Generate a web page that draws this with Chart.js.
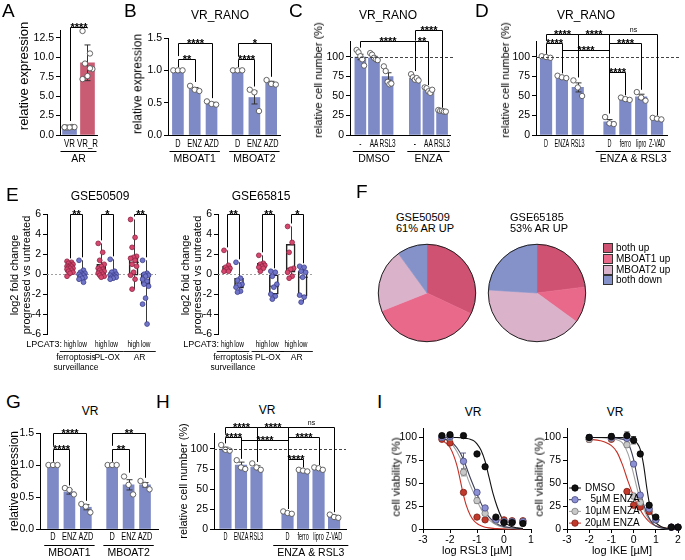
<!DOCTYPE html>
<html>
<head>
<meta charset="utf-8">
<script src="https://cdn.jsdelivr.net/npm/chart.js@4.4.1/dist/chart.umd.min.js"></script>
<style>
  body { margin: 0; background: #fff; }
  #fig { position: relative; width: 685px; height: 560px; overflow: hidden;
         font-family: "Liberation Sans", Arial, Helvetica, sans-serif; color: #000; }
  #fig canvas { position: absolute; }
  .t { position: absolute; white-space: nowrap; line-height: 1; }
  .letter { font-size: 19px; }
  .title { font-size: 12px; transform: translate(-50%, -50%); }
  .ylab { font-size: 11.5px; transform: translate(-50%, -50%) rotate(-90deg); text-align: center; line-height: 1.1; }
  .xlab { font-size: 11px; transform: translate(-50%, -50%); }
  .ftitle { font-size: 11px; line-height: 11px; }
  .leg { font-size: 10px; transform: translateY(-50%); }
  .sq { position: absolute; width: 8px; height: 8px; border: 1px solid #333; }
</style>
</head>
<body>
<div id="fig"></div>
<script>
// ================== DATOS ==================
// A - AR
const aLabels = ['VR', 'VR_R'];
const aGroup = 'AR';
const aMeans = [1.0, 9.3];
const aErrs = [0.05, 2.3];
const aPts = [[1.0, 1.04, 0.96, 1.02, 0.98, 1.0], [13.4, 10.5, 9.2, 8.5, 7.6, 7.2, 8.6]];

// B - VR_RANO MBOAT
const bLabels = ['D', 'ENZ', 'AZD', 'D', 'ENZ', 'AZD'];
const bGroups = ['MBOAT1', 'MBOAT2'];
const bMeans = [1.0, 0.71, 0.49, 1.0, 0.58, 0.81];
const bErrs = [0.005, 0.025, 0.015, 0.005, 0.1, 0.02];
const bPts = [[1, 1, 1], [0.76, 0.70, 0.68], [0.52, 0.48, 0.47], [1, 1, 1], [0.70, 0.66, 0.37], [0.85, 0.79, 0.78]];

// C - VR_RANO DMSO / ENZA
const cLabels = ['-', 'AA', 'RSL3', '-', 'AA', 'RSL3'];
const cGroups = ['DMSO', 'ENZA'];
const cMeans = [100, 99, 75, 73, 57, 31];
const cErrs = [3.5, 1.8, 4.8, 1.3, 1.5, 0.5];
const cPts = [[109, 106, 101, 97, 89], [105, 103, 99, 97, 96], [88, 82, 68, 65, 66], [78, 74, 71, 73, 70], [61, 60, 56, 54, 58], [32, 31, 31, 30, 30]];

// D - VR_RANO rescate
const dLabels = ['D', 'ENZA', 'RSL3', 'D', 'ferro', 'lipro', 'Z-VAD'];
const dGroup = 'ENZA & RSL3';
const dMeans = [100, 74, 61, 17, 46, 49, 21];
const dErrs = [0.7, 1.0, 5.8, 2.8, 1.0, 3.3, 0.7];
const dPts = [[101, 100, 99], [76, 74, 73], [70, 61, 50], [23, 15, 14], [48, 46, 45], [55, 48, 44], [22, 21, 20]];

// E - cajas [min, q1, mediana, q3, max]
const eTicks = ['high', 'low', 'high', 'low', 'high', 'low'];
const eSets = [['ferroptosis', 'surveillance'], ['PL-OX'], ['AR']];
const e1Box = [[-0.2, 0.2, 0.6, 0.9, 1.3], [-0.8, -0.3, 0.0, 0.2, 1.4], [-0.3, 0.0, 0.4, 1.0, 3.1],
               [-0.5, -0.35, -0.15, 0.2, 1.5], [-1.5, -0.1, 1.2, 1.8, 5.5], [-5.0, -1.0, -0.15, 0.1, 1.4]];
const e1Pts = [
  [1.3, 1.2, 1.1, 1.0, 0.9, 0.8, 0.8, 0.7, 0.6, 0.6, 0.5, 0.4, 0.3, 0.2, 0.1, -0.2],
  [1.4, 0.4, 0.2, 0.1, 0.0, 0.0, -0.1, -0.2, -0.3, -0.4, -0.5, -0.8],
  [3.1, 2.2, 1.4, 1.0, 0.8, 0.6, 0.5, 0.4, 0.3, 0.2, 0.1, 0.0, -0.1, -0.2, -0.3],
  [1.5, 0.3, 0.2, 0.0, -0.1, -0.1, -0.2, -0.3, -0.3, -0.4, -0.5],
  [5.5, 3.7, 2.7, 1.8, 1.7, 1.6, 1.4, 1.0, 0.8, 0.2, -0.1, -0.5, -1.5],
  [1.4, 0.1, 0.0, -0.1, -0.2, -0.5, -0.7, -1.0, -1.2, -2.4, -3.0, -5.0]
];
const e2Box = [[0.3, 0.3, 0.6, 0.8, 2.4], [-1.8, -1.4, -0.9, -0.4, 1.2], [0.3, 0.6, 0.85, 1.1, 1.9],
               [-2.5, -2.0, -1.2, 0.0, 0.3], [-0.4, 0.2, 0.6, 3.0, 4.8], [-2.8, -2.2, -0.3, 0.3, 0.8]];
const e2Pts = [
  [2.4, 0.9, 0.7, 0.6, 0.5, 0.3, 0.3],
  [1.2, -0.4, -0.6, -1.0, -1.1, -1.3, -1.7, -1.8],
  [1.9, 1.1, 1.0, 0.9, 0.8, 0.7, 0.6, 0.3],
  [0.3, 0.2, -0.2, -1.0, -1.3, -2.0, -2.2, -2.5],
  [4.8, 3.2, 2.2, 0.6, 0.5, 0.2, -0.2, -0.4],
  [0.8, 0.7, 0.3, 0.2, -0.3, -2.1, -2.3, -2.8]
];

// F - tartas
const fCats = ['both up', 'MBOAT1 up', 'MBOAT2 up', 'both down'];
const f1Title = ['GSE50509', '61% AR UP'];
const f2Title = ['GSE65185', '53% AR UP'];
const f1Vals = [32, 37, 21, 10];
const f2Vals = [23, 12, 41, 24];

// G - VR MBOAT
const gLabels = ['D', 'ENZ', 'AZD', 'D', 'ENZ', 'AZD'];
const gGroups = ['MBOAT1', 'MBOAT2'];
const gMeans = [1.0, 0.58, 0.34, 1.0, 0.69, 0.69];
const gErrs = [0.005, 0.035, 0.04, 0.005, 0.08, 0.035];
const gPts = [[1, 1, 1], [0.64, 0.61, 0.54], [0.39, 0.35, 0.26], [1, 1, 1], [0.82, 0.69, 0.54], [0.75, 0.69, 0.62]];

// H - VR rescate
const hLabels = ['D', 'ENZA', 'RSL3', 'D', 'ferro', 'lipro', 'Z-VAD'];
const hGroup = 'ENZA & RSL3';
const hMeans = [100, 80, 77, 20, 73, 76, 16];
const hErrs = [2.3, 3.6, 2.0, 0.8, 0.7, 0.8, 1.2];
const hPts = [[105, 99, 98], [86, 77, 75], [82, 77, 74], [22, 20, 19], [74, 73, 72], [77, 76, 74], [18, 15, 14]];

// I - curvas dosis-respuesta
const iSeries = ['DMSO', '5µM ENZA', '10µM ENZA', '20µM ENZA'];
const rslDose = [-2.3, -2, -1.5, -1, -0.7, -0.3, 0, 0.3, 0.7];
const rslVia = [[102, 103, 102, 82, 68, 13, 7, 7, 6],
                [100, 101, 74, 40, 23, 10, 8, 8, 8],
                [100, 100, 62, 31, 17, 9, 8, 8, 8],
                [98, 94, 40, 13, 10, 10, 10, 9, 9]];
const rslErr = [[1.5, 1.5, 2.5, 1.5, 1.5, 1, 0.5, 0.5, 0.5],
                [1, 1, 9, 2, 1.5, 1, 0.5, 0.5, 0.5],
                [1, 1, 4, 3, 2, 1, 0.5, 0.5, 0.5],
                [1, 1.5, 2, 1, 1, 1, 0.5, 0.5, 0.5]];
const rslFitX = [-2.3, -2, -1.75, -1.5, -1.4, -1.25, -1.1, -1, -0.85, -0.7, -0.55, -0.4, -0.25, -0.1, 0, 0.25, 0.5, 0.7];
const rslFitY = [[100, 100, 100, 99.5, 99, 98, 96, 93, 86, 74, 56, 38, 24, 13, 8, 3, 1.2, 0.6],
                 [99, 96, 89, 76, 68, 56, 45, 38, 28, 19, 13, 8.5, 5.5, 3.5, 2.6, 1.3, 0.6, 0.4],
                 [99, 95, 85, 69, 60, 48, 38, 31, 22, 15, 10, 6.5, 4, 2.5, 1.8, 0.9, 0.4, 0.2],
                 [97, 89, 70, 37, 26, 15, 8.5, 6, 3.5, 2, 1.2, 0.7, 0.4, 0.2, 0.1, 0, 0, 0]];
const ikeDose = [-2, -1, -0.3, 0, 0.3, 0.7, 1, 1.7, 2];
const ikeVia = [[100, 101, 102, 97, 82, 26, 13, 2, 2],
                [100, 100, 99, 71, 37, 22, 10, 2, 2],
                [98, 99, 92, 36, 29, 22, 10, 2, 2],
                [98, 98, 41, 26, 24, 19, 10, 2, 2]];
const ikeErr = [[3, 3, 4, 4, 2, 2, 2, 1, 1],
                [2, 2, 2, 2, 2, 2, 1, 1, 1],
                [3, 3, 3, 3, 3, 2, 1, 1, 1],
                [2, 2, 2, 2, 2, 2, 1, 1, 1]];
const ikeFitX = [-2, -1.5, -1, -0.75, -0.5, -0.25, 0, 0.15, 0.3, 0.45, 0.6, 0.75, 0.9, 1, 1.25, 1.5, 2];
const ikeFitY = [[100, 100, 100, 100, 99.8, 99.3, 97.5, 94, 87, 70, 44, 23, 11, 7, 2.5, 0.8, 0],
                 [100, 100, 99.7, 99.2, 98, 94, 76, 58, 41, 27, 17, 10, 5, 3.3, 1, 0.3, 0],
                 [100, 99.8, 99, 97.5, 94, 82, 60, 45, 32, 22, 14, 8.5, 5, 3.5, 1.2, 0.4, 0],
                 [98, 96.5, 91, 84, 70, 52, 36, 28, 21, 15, 10.5, 7, 4.5, 3.5, 1.8, 0.9, 0.2]];

// ================== ESTILO ==================
const FONT = '"Liberation Sans", Arial, Helvetica, sans-serif';
Chart.defaults.font.family = FONT;
Chart.defaults.color = '#000';
const BLUE = '#7e8ac6';
const PINK = '#c95b73';
const E_RED = '#d6476e', E_RED_D = '#8e2544';
const E_BLUE = '#7175c9', E_BLUE_D = '#3d3f8c';
const fColors = ['#cf5273', '#e9698b', '#dab2ca', '#8592c9'];
const iFill = ['#111111', '#8c90d4', '#c8c8c8', '#c0392b'];
const iEdge = ['#000000', '#4a4d80', '#7a7a7a', '#7d1d14'];
const iLine = ['#111111', '#3a3d55', '#a0a0a0', '#c62f25'];

const fig = document.getElementById('fig');

// ================== UTILIDADES ==================
function addCanvas(box) {
  const [L, T, W, H] = box;
  const c = document.createElement('canvas');
  c.width = W; c.height = H;
  Object.assign(c.style, {left: L + 'px', top: T + 'px', width: W + 'px', height: H + 'px'});
  fig.appendChild(c);
  return c;
}

function addText(html, x, y, cls, extra) {
  const d = document.createElement('div');
  d.className = 't ' + cls;
  d.innerHTML = html;
  d.style.left = x + 'px';
  d.style.top = y + 'px';
  if (extra) Object.assign(d.style, extra);
  fig.appendChild(d);
}

// caja del canvas + área de trazado en coordenadas de página
function frame(box, plot) {
  const [L, T, W, H] = box;
  const [x0, y0, x1, y1] = plot;
  return {L, T, pad: {left: 0, top: y0 - T, right: L + W - x1, bottom: 0}, yW: x0 - L, xH: T + H - y1};
}

function jit(n, k, w) {
  if (n < 2) return 0;
  if (n <= 5) return (k / (n - 1) - 0.5) * w;
  return (((k * 3) % 5) / 4 - 0.5) * w;
}

function yAxis(f, min, max, ticks, fmt, size) {
  return {
    min, max,
    afterFit: s => { s.width = f.yW; },
    afterBuildTicks: s => { s.ticks = ticks.map(v => ({value: v})); },
    ticks: {callback: v => fmt(v), font: {size: size || 10.5}, color: '#000', padding: 2},
    grid: {drawOnChartArea: false, drawTicks: true, tickLength: 4, color: '#000', lineWidth: 1},
    border: {display: true, color: '#000', width: 1}
  };
}

// eje x lineal con las categorías en posiciones fijas; las etiquetas se dibujan estrechas aparte
function xCat(f, range, pos, showBorder) {
  return {
    type: 'linear', min: range[0], max: range[1], offset: false,
    afterFit: s => { s.height = f.xH; },
    afterBuildTicks: s => { s.ticks = pos.map(v => ({value: v})); },
    ticks: {display: false},
    grid: {drawOnChartArea: false, drawTicks: false, offset: false, color: '#000'},
    border: {display: showBorder, color: '#000', width: 1}
  };
}

// texto comprimido horizontalmente (las etiquetas de GraphPad son estrechas)
function narrowText(ctx, text, x, y, cond) {
  ctx.save();
  ctx.translate(x, y);
  ctx.scale(cond, 1);
  ctx.fillText(text, 0, 0);
  ctx.restore();
}

function drawCats(ctx, chart, pos, labels, y, size, cond) {
  const x = chart.scales.x;
  ctx.fillStyle = '#000';
  ctx.font = size + 'px ' + FONT;
  ctx.textAlign = 'center';
  ctx.textBaseline = 'middle';
  labels.forEach((t, i) => narrowText(ctx, t, x.getPixelForValue(pos[i]), y, cond));
}

function drawBrackets(ctx, chart, pos, list) {
  const x = chart.scales.x, y = chart.scales.y;
  ctx.strokeStyle = '#000';
  ctx.lineWidth = 1;
  ctx.fillStyle = '#000';
  ctx.textAlign = 'center';
  ctx.textBaseline = 'alphabetic';
  list.forEach(([i, j, v, label, vi, vj]) => {
    const x1 = Math.round(x.getPixelForValue(pos[i])) + 0.5;
    const x2 = Math.round(x.getPixelForValue(pos[j])) + 0.5;
    const yy = Math.round(y.getPixelForValue(v)) + 0.5;
    ctx.beginPath();
    ctx.moveTo(x1, y.getPixelForValue(vi));
    ctx.lineTo(x1, yy);
    ctx.lineTo(x2, yy);
    ctx.lineTo(x2, y.getPixelForValue(vj));
    ctx.stroke();
    if (label === 'ns') {
      ctx.font = '7px ' + FONT;
      ctx.fillText(label, (x1 + x2) / 2, yy - 3);
    } else {
      ctx.font = 'bold 11px ' + FONT;
      ctx.fillText(label, (x1 + x2) / 2, yy + 3);
    }
  });
}

// decoración de los paneles de barras
function barDecor(p, f) {
  return {
    id: 'barDecor',
    afterDatasetDraw(chart, args) {
      if (chart.data.datasets[args.index].type !== 'bar') return;
      const ctx = chart.ctx, x = chart.scales.x, y = chart.scales.y;
      ctx.save();
      ctx.strokeStyle = '#333';
      ctx.lineWidth = 1;
      p.means.forEach((m, i) => {
        const e = p.errs[i];
        if (!e) return;
        const cx = Math.round(x.getPixelForValue(p.pos[i])) + 0.5;
        const yt = y.getPixelForValue(m + e), yb = y.getPixelForValue(m - e);
        ctx.beginPath();
        ctx.moveTo(cx, yb); ctx.lineTo(cx, yt);
        ctx.moveTo(cx - 3, yt); ctx.lineTo(cx + 3, yt);
        ctx.moveTo(cx - 3, yb); ctx.lineTo(cx + 3, yb);
        ctx.stroke();
      });
      ctx.restore();
    },
    afterDatasetsDraw(chart) {
      if (!p.dashTo) return;
      const ctx = chart.ctx, a = chart.chartArea;
      const yy = Math.round(chart.scales.y.getPixelForValue(100)) + 0.5;
      ctx.save();
      ctx.strokeStyle = '#444';
      ctx.lineWidth = 1;
      ctx.setLineDash([3, 2]);
      ctx.beginPath();
      ctx.moveTo(a.left, yy);
      ctx.lineTo(p.dashTo - f.L, yy);
      ctx.stroke();
      ctx.restore();
    },
    afterDraw(chart) {
      const ctx = chart.ctx, x = chart.scales.x;
      ctx.save();
      drawBrackets(ctx, chart, p.pos, p.brackets);
      drawCats(ctx, chart, p.pos, p.labels, p.catY - f.T, p.catSize, p.cond);
      // etiquetas de grupo con línea
      ctx.font = '10.5px ' + FONT;
      ctx.textAlign = 'center';
      ctx.textBaseline = 'middle';
      ctx.lineWidth = 1;
      ctx.strokeStyle = '#000';
      p.groups.forEach(([text, from, to]) => {
        const xa = x.getPixelForValue(p.pos[from]) - p.barW / 2 - 2;
        const xb = x.getPixelForValue(p.pos[to]) + p.barW / 2 + 2;
        const cx = (xa + xb) / 2;
        const tw = ctx.measureText(text).width + 8;
        const l = Math.min(xa, cx - tw / 2), r = Math.max(xb, cx + tw / 2);
        const ly = Math.round(p.gLineY - f.T) + 0.5;
        ctx.beginPath();
        ctx.moveTo(l, ly); ctx.lineTo(r, ly);
        ctx.stroke();
        ctx.fillText(text, cx, p.gTextY - f.T);
      });
      ctx.restore();
    }
  };
}

function barPanel(p) {
  const f = frame(p.box, p.plot);
  const cv = addCanvas(p.box);
  const ds = p.pts.map((vals, i) => ({
    type: 'scatter', order: 0, clip: false,
    data: vals.map((v, k) => ({x: p.pos[i] + jit(vals.length, k, 0.55), y: v})),
    pointRadius: 2.7, pointBackgroundColor: '#fff', pointBorderColor: '#555', pointBorderWidth: 0.9
  }));
  ds.push({
    type: 'bar', order: 1,
    data: p.means.map((v, i) => ({x: p.pos[i], y: v})),
    backgroundColor: p.colors || BLUE, barThickness: p.barW, borderWidth: 0
  });
  new Chart(cv, {
    type: 'bar',
    data: {datasets: ds},
    options: {
      responsive: false, animation: false, events: [], devicePixelRatio: 1,
      layout: {padding: f.pad},
      plugins: {legend: {display: false}, tooltip: {enabled: false}},
      scales: {
        x: xCat(f, p.xr, p.pos, true),
        y: yAxis(f, 0, p.yMax, p.yTicks, p.fmt)
      }
    },
    plugins: [barDecor(p, f)]
  });
}

// paneles de cajas (E)
function boxPanel(p) {
  const f = frame(p.box, p.plot);
  const cv = addCanvas(p.box);
  const ds = p.pts.map((vals, i) => {
    const hi = i % 2 === 0;
    return {
      type: 'scatter', order: 0, clip: false,
      data: vals.map((v, k) => ({x: p.pos[i] + jit(vals.length, k, 0.5), y: v})),
      pointRadius: 2.4, pointBackgroundColor: hi ? E_RED : E_BLUE,
      pointBorderColor: hi ? E_RED_D : E_BLUE_D, pointBorderWidth: 0.8
    };
  });
  ds.push({
    type: 'bar', order: 1,
    data: p.stats.map((s, i) => ({x: p.pos[i], y: [s[1], s[3]]})),
    backgroundColor: 'rgba(255,255,255,0)', borderColor: '#222', borderWidth: 0.9,
    borderSkipped: false, barThickness: 9
  });
  const decor = {
    id: 'boxDecor',
    beforeDatasetsDraw(chart) {
      const ctx = chart.ctx, a = chart.chartArea;
      const yy = Math.round(chart.scales.y.getPixelForValue(0)) + 0.5;
      ctx.save();
      ctx.strokeStyle = '#888';
      ctx.lineWidth = 0.8;
      ctx.setLineDash([2, 2]);
      ctx.beginPath();
      ctx.moveTo(a.left, yy); ctx.lineTo(a.right, yy);
      ctx.stroke();
      ctx.restore();
    },
    afterDatasetDraw(chart, args) {
      if (chart.data.datasets[args.index].type !== 'bar') return;
      const ctx = chart.ctx, x = chart.scales.x, y = chart.scales.y;
      ctx.save();
      ctx.strokeStyle = '#222';
      ctx.lineWidth = 0.9;
      p.stats.forEach((s, i) => {
        const cx = Math.round(x.getPixelForValue(p.pos[i])) + 0.5;
        ctx.beginPath();
        ctx.moveTo(cx, y.getPixelForValue(s[0])); ctx.lineTo(cx, y.getPixelForValue(s[1]));
        ctx.moveTo(cx, y.getPixelForValue(s[3])); ctx.lineTo(cx, y.getPixelForValue(s[4]));
        const ym = y.getPixelForValue(s[2]);
        ctx.moveTo(cx - 4.5, ym); ctx.lineTo(cx + 4.5, ym);
        ctx.stroke();
      });
      ctx.restore();
    },
    afterDraw(chart) {
      const ctx = chart.ctx, x = chart.scales.x;
      ctx.save();
      drawBrackets(ctx, chart, p.pos, p.brackets);
      drawCats(ctx, chart, p.pos, eTicks, p.tickY - f.T, 9, 0.72);
      ctx.font = '9px ' + FONT;
      ctx.textAlign = 'right';
      ctx.fillText('LPCAT3:', x.getPixelForValue(p.pos[0]) - 8, p.tickY - f.T);
      ctx.textAlign = 'center';
      ctx.lineWidth = 0.9;
      ctx.strokeStyle = '#000';
      ctx.font = '8.5px ' + FONT;
      eSets.forEach((lines, g) => {
        const xa = x.getPixelForValue(p.pos[2 * g] - 0.85);
        const xb = x.getPixelForValue(p.pos[2 * g + 1] + 0.85);
        const ly = Math.round(p.lineY - f.T) + 0.5;
        ctx.beginPath();
        ctx.moveTo(xa, ly); ctx.lineTo(xb, ly);
        ctx.stroke();
        lines.forEach((t, k) => ctx.fillText(t, (xa + xb) / 2, p.setY - f.T + k * 10));
      });
      ctx.restore();
    }
  };
  new Chart(cv, {
    type: 'bar',
    data: {datasets: ds},
    options: {
      responsive: false, animation: false, events: [], devicePixelRatio: 1,
      layout: {padding: f.pad},
      plugins: {legend: {display: false}, tooltip: {enabled: false}},
      scales: {
        x: xCat(f, p.xr, p.pos, false),
        y: yAxis(f, -6, 6, [-6, -4, -2, 0, 2, 4, 6], v => String(v))
      }
    },
    plugins: [decor]
  });
}

// tartas (F)
function piePanel(box, vals) {
  const cv = addCanvas(box);
  const outline = {
    id: 'outline',
    afterDatasetsDraw(chart) {
      const arc = chart.getDatasetMeta(0).data[0];
      const ctx = chart.ctx;
      ctx.save();
      ctx.beginPath();
      ctx.arc(arc.x, arc.y, arc.outerRadius, 0, Math.PI * 2);
      ctx.strokeStyle = '#222';
      ctx.lineWidth = 1;
      ctx.stroke();
      ctx.restore();
    }
  };
  new Chart(cv, {
    type: 'pie',
    data: {labels: fCats, datasets: [{data: vals, backgroundColor: fColors, borderColor: fColors, borderWidth: 0.6}]},
    options: {
      responsive: false, animation: false, events: [], devicePixelRatio: 1,
      layout: {padding: 2},
      plugins: {legend: {display: false}, tooltip: {enabled: false}}
    },
    plugins: [outline]
  });
}

// curvas dosis-respuesta (I)
function dosePanel(p) {
  const f = frame(p.box, p.plot);
  const cv = addCanvas(p.box);
  const ds = [];
  iSeries.forEach((name, s) => {
    ds.push({
      type: 'scatter', order: 0, clip: false,
      data: p.dose.map((x, i) => ({x, y: p.via[s][i]})),
      pointRadius: 3.2, pointBackgroundColor: iFill[s], pointBorderColor: iEdge[s], pointBorderWidth: 0.8
    });
  });
  iSeries.forEach((name, s) => {
    ds.push({
      type: 'line', order: 1, clip: false,
      data: p.fitX.map((x, i) => ({x, y: p.fitY[s][i]})),
      borderColor: iLine[s], borderWidth: 1.1, pointRadius: 0, cubicInterpolationMode: 'monotone', fill: false
    });
  });
  const decor = {
    id: 'doseDecor',
    beforeDatasetsDraw(chart) {
      const ctx = chart.ctx, x = chart.scales.x, y = chart.scales.y;
      ctx.save();
      ctx.lineWidth = 0.9;
      iSeries.forEach((name, s) => {
        ctx.strokeStyle = iEdge[s] === '#000000' ? '#222' : iEdge[s];
        p.dose.forEach((d, i) => {
          const e = p.err[s][i];
          if (e < 1.5) return;
          const cx = x.getPixelForValue(d);
          const yt = y.getPixelForValue(p.via[s][i] + e), yb = y.getPixelForValue(p.via[s][i] - e);
          ctx.beginPath();
          ctx.moveTo(cx, yb); ctx.lineTo(cx, yt);
          ctx.moveTo(cx - 2.5, yt); ctx.lineTo(cx + 2.5, yt);
          ctx.moveTo(cx - 2.5, yb); ctx.lineTo(cx + 2.5, yb);
          ctx.stroke();
        });
      });
      ctx.restore();
    },
    afterDraw(chart) {
      if (!p.legend) return;
      const ctx = chart.ctx;
      ctx.save();
      ctx.font = '10px ' + FONT;
      ctx.textAlign = 'left';
      ctx.textBaseline = 'middle';
      iSeries.forEach((name, s) => {
        const lx = p.legend[0] - f.L, ly = p.legend[1] - f.T + s * 11.7;
        ctx.strokeStyle = iLine[s];
        ctx.lineWidth = 1;
        ctx.beginPath();
        ctx.moveTo(lx - 6, ly); ctx.lineTo(lx + 6, ly);
        ctx.stroke();
        ctx.beginPath();
        ctx.arc(lx, ly, 3.2, 0, Math.PI * 2);
        ctx.fillStyle = iFill[s];
        ctx.fill();
        ctx.strokeStyle = iEdge[s];
        ctx.lineWidth = 0.8;
        ctx.stroke();
        ctx.fillStyle = '#000';
        const txt = name.startsWith('5') ? '  ' + name : name;
        ctx.fillText(txt, lx + 10, ly);
      });
      ctx.restore();
    }
  };
  new Chart(cv, {
    type: 'scatter',
    data: {datasets: ds},
    options: {
      responsive: false, animation: false, events: [], devicePixelRatio: 1,
      layout: {padding: f.pad},
      plugins: {legend: {display: false}, tooltip: {enabled: false}},
      scales: {
        x: {
          type: 'linear', min: p.xr[0], max: p.xr[1],
          afterFit: s => { s.height = f.xH; },
          afterBuildTicks: s => { s.ticks = p.xTicks.map(v => ({value: v})); },
          ticks: {callback: v => String(v), font: {size: 10.5}, color: '#000', padding: 1, autoSkip: false, maxRotation: 0},
          grid: {drawOnChartArea: false, tickLength: 4, color: '#000'},
          border: {display: true, color: '#000', width: 1}
        },
        y: yAxis(f, 0, 110, [0, 25, 50, 75, 100], v => String(v))
      }
    },
    plugins: [decor]
  });
}

// ================== PANELES ==================
const fmt1 = v => v.toFixed(1);
const fmt0 = v => String(v);

barPanel({ // A
  box: [0, 20, 110, 150], plot: [60, 30.2, 97, 135],
  pos: [0, 1], xr: [-0.53, 1.53], barW: 14, colors: [BLUE, PINK], catSize: 10.5, cond: 0.75, catY: 144,
  labels: aLabels, means: aMeans, errs: aErrs, pts: aPts,
  yMax: 13.5, yTicks: [0, 2.5, 5, 7.5, 10, 12.5], fmt: fmt1,
  brackets: [[0, 1, 13.95, '****', 1.8, 13.75]],
  groups: [[aGroup, 0, 1]], gLineY: 151, gTextY: 159
});

barPanel({ // B
  box: [110, 20, 175, 150], plot: [168, 38, 281, 135],
  pos: [0, 1, 2, 3.55, 4.55, 5.55], xr: [-0.59, 6.08], barW: 11, catSize: 10.5, cond: 0.7, catY: 144,
  labels: bLabels, means: bMeans, errs: bErrs, pts: bPts,
  yMax: 1.5, yTicks: [0, 0.5, 1, 1.5], fmt: fmt1,
  brackets: [[0, 1, 1.17, '**', 1.05, 0.82], [0, 2, 1.43, '****', 1.22, 0.57],
             [3, 4, 1.17, '****', 1.05, 0.75], [3, 5, 1.43, '*', 1.22, 0.9]],
  groups: [[bGroups[0], 0, 2], [bGroups[1], 3, 5]], gLineY: 151, gTextY: 159
});

barPanel({ // C
  box: [285, 20, 170, 150], plot: [350, 41.4, 456, 135],
  pos: [0, 1, 2, 4, 5, 6], xr: [-0.76, 6.59], barW: 11, dashTo: 458, catSize: 10.5, cond: 0.62, catY: 144,
  labels: cLabels, means: cMeans, errs: cErrs, pts: cPts,
  yMax: 120, yTicks: [0, 25, 50, 75, 100], fmt: fmt0,
  brackets: [[0, 3, 121, '****', 112, 82], [3, 4, 121, '**', 82, 64], [3, 5, 134, '****', 121, 35]],
  groups: [[cGroups[0], 0, 2], [cGroups[1], 3, 5]], gLineY: 151, gTextY: 159
});

barPanel({ // D
  box: [455, 20, 230, 150], plot: [536, 41.4, 667, 135],
  pos: [0, 1, 2, 4, 5, 6, 7], xr: [-0.635, 7.63], barW: 11.5, dashTo: 681, catSize: 10, cond: 0.55, catY: 144,
  labels: dLabels, means: dMeans, errs: dErrs, pts: dPts,
  yMax: 120, yTicks: [0, 25, 50, 75, 100], fmt: fmt0,
  brackets: [[0, 1, 117.5, '****', 104, 79], [0, 2, 129.5, '****', 121, 74], [1, 3, 109, '****', 80, 28],
             [2, 3, 129.5, '****', 74, 28], [3, 5, 117.5, '****', 28, 58], [3, 6, 129.5, 'ns', 28, 25],
             [3, 4, 81, '****', 28, 51]],
  groups: [[dGroup, 3, 6]], gLineY: 151, gTextY: 159
});

boxPanel({ // E izquierda
  box: [0, 200, 170, 175], plot: [47, 214.5, 156, 334],
  pos: [0, 1, 2.6, 3.6, 5.3, 6.3], xr: [-1.92, 7.17],
  stats: e1Box, pts: e1Pts, tickY: 345, lineY: 350.5, setY: 358,
  brackets: [[0, 1, 6.1, '**', 1.6, 1.7], [2, 3, 6.1, '*', 3.4, 1.8], [4, 5, 6.1, '**', 5.8, 1.7]]
});

boxPanel({ // E derecha
  box: [175, 200, 145, 175], plot: [218, 214.5, 312, 334],
  pos: [0, 1, 2.9, 3.9, 5.3, 6.3], xr: [-0.75, 7.08],
  stats: e2Box, pts: e2Pts, tickY: 345, lineY: 350.5, setY: 358,
  brackets: [[0, 1, 6.1, '**', 2.7, 1.5], [2, 3, 6.1, '**', 2.2, 0.6], [4, 5, 6.1, '*', 5.1, 1.1]]
});

piePanel([376, 242, 102, 102], f1Vals);
piePanel([486, 242, 102, 102], f2Vals);

barPanel({ // G
  box: [0, 420, 165, 140], plot: [40, 433, 158, 529],
  pos: [0, 1, 2, 3.6, 4.6, 5.6], xr: [-0.79, 6.39], barW: 11, catSize: 10.5, cond: 0.7, catY: 537,
  labels: gLabels, means: gMeans, errs: gErrs, pts: gPts,
  yMax: 1.5, yTicks: [0, 0.5, 1, 1.5], fmt: fmt1,
  brackets: [[0, 1, 1.25, '****', 1.05, 0.68], [0, 2, 1.5, '****', 1.3, 0.44],
             [3, 4, 1.25, '**', 1.05, 0.88], [3, 5, 1.5, '**', 1.3, 0.8]],
  groups: [[gGroups[0], 0, 2], [gGroups[1], 3, 5]], gLineY: 545, gTextY: 553
});

barPanel({ // H
  box: [175, 420, 180, 140], plot: [214, 433, 346, 529],
  pos: [0, 1, 2, 4, 5, 6, 7], xr: [-0.74, 7.77], barW: 11.5, dashTo: 346, catSize: 10, cond: 0.55, catY: 537,
  labels: hLabels, means: hMeans, errs: hErrs, pts: hPts,
  yMax: 120, yTicks: [0, 25, 50, 75, 100], fmt: fmt0,
  brackets: [[0, 1, 115, '****', 107, 88], [0, 2, 127, '****', 119, 84], [1, 3, 111, '****', 88, 25],
             [2, 3, 127, '****', 84, 25], [3, 5, 115, '****', 25, 80], [3, 6, 127, 'ns', 25, 21],
             [3, 4, 87, '****', 25, 77]],
  groups: [[hGroup, 3, 6]], gLineY: 545, gTextY: 553
});

dosePanel({ // I izquierda
  box: [400, 420, 140, 140], plot: [423, 425, 531, 529],
  xr: [-3, 1], xTicks: [-3, -2, -1, 0, 1],
  dose: rslDose, via: rslVia, err: rslErr, fitX: rslFitX, fitY: rslFitY
});

dosePanel({ // I derecha
  box: [545, 420, 140, 140], plot: [567, 425, 678, 529],
  xr: [-3, 2], xTicks: [-3, -2, -1, 0, 1, 2],
  dose: ikeDose, via: ikeVia, err: ikeErr, fitX: ikeFitX, fitY: ikeFitY,
  legend: [575, 488]
});

// ================== TEXTOS ==================
[['A', 2, 1], ['B', 124, 1], ['C', 289, 1], ['D', 475, 1], ['E', 6, 185],
 ['F', 356, 182], ['G', 6, 392], ['H', 156, 392], ['I', 377, 392]]
  .forEach(([t, x, y]) => addText(t, x, y, 'letter'));

[['VR_RANO', 220, 15], ['VR_RANO', 388, 15], ['VR_RANO', 586, 15],
 ['GSE50509', 100, 196], ['GSE65815', 261, 196],
 ['VR', 90, 411], ['VR', 267, 410], ['VR', 473, 412], ['VR', 615, 412]]
  .forEach(([t, x, y]) => addText(t, x, y, 'title'));

[['relative expression', 24, 76, 13], ['relative expression', 138, 84, 12],
 ['relative cell number (%)', 318, 80, 11], ['relative cell number (%)', 505, 80, 11],
 ['log2 fold change<br>progressed vs untreated', 20, 275, 11],
 ['log2 fold change<br>progressed vs untreated', 191, 275, 11],
 ['relative expression', 15, 481, 12], ['relative cell number (%)', 183, 481, 11],
 ['cell viability (%)', 396, 477, 11.5], ['cell viability (%)', 539, 477, 11.5]]
  .forEach(([t, x, y, s]) => addText(t, x, y, 'ylab', {fontSize: s + 'px'}));

addText('log RSL3 [µM]', 477, 550, 'xlab');
addText('log IKE [µM]', 622, 550, 'xlab');

addText(f1Title.join('<br>'), 396, 212, 'ftitle');
addText(f2Title.join('<br>'), 510, 212, 'ftitle');
fCats.forEach((c, i) => {
  const y = 248 + i * 10.8;
  const sq = document.createElement('div');
  sq.className = 'sq';
  Object.assign(sq.style, {left: '603px', top: (y - 5) + 'px', background: fColors[i]});
  fig.appendChild(sq);
  addText(c, 616, y, 'leg');
});
</script>
</body>
</html>
